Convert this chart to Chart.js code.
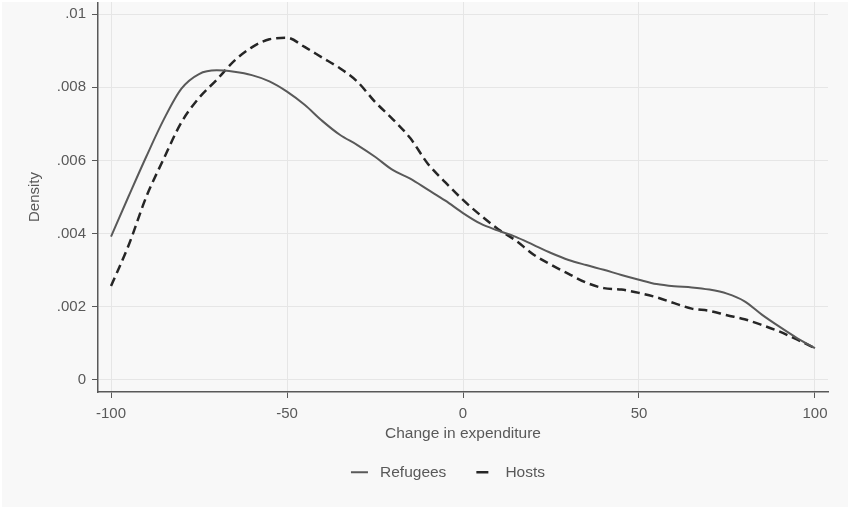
<!DOCTYPE html>
<html lang="en">
<head>
    <meta charset="UTF-8">
    <title>Change in expenditure density</title>
    <script src="https://cdn.jsdelivr.net/npm/chart.js"></script>
    <style>
        body { margin: 0; background: #fff; }
        #densityChart { position: absolute; left: 2px; top: 2px; background: #f8f8f8; }
    </style>
</head>
<body>
    <canvas id="densityChart" width="846" height="505"></canvas>

    <script>
        // Kernel density estimates, read every 5 points of change
        const changeValues = [-100, -95, -90, -85, -80, -75, -70, -65, -60, -55, -50, -45, -40, -35, -30, -25, -20, -15, -10, -5,
            0, 5, 10, 15, 20, 25, 30, 35, 40, 45, 50, 55, 60, 65, 70, 75, 80, 85, 90, 95, 100];
        const refugees = [.00392, .00502, .00610, .00712, .00796, .00836, .00846, .00842, .00833, .00816, .00788, .00752, .00708, .00670,
            .00642, .00610, .00574, .00550, .00520, .00490, .00456, .00427, .00408, .00391, .00369, .00347, .00328, .00314, .00301,
            .00287, .00274, .00262, .00256, .00253, .00247, .00236, .00215, .00178, .00145, .00114, .00087];
        const hosts = [.00257, .00368, .00500, .00605, .00704, .00771, .00820, .00872, .00909, .00931, .00935, .00910, .00881, .00852,
            .00815, .00760, .00713, .00661, .00591, .00540, .00492, .00450, .00412, .00381, .00343, .00315, .00290, .00266, .00251,
            .00247, .00238, .00226, .00210, .00195, .00189, .00177, .00166, .00150, .00132, .00110, .00087];

        const xTicks = [-100, -50, 0, 50, 100];
        const yTicks = [0, .002, .004, .006, .008, .01];
        const yTickLabels = ['0', '.002', '.004', '.006', '.008', '.01'];

        const textColor = '#595959';
        const axisColor = '#595959';
        const gridColor = '#e6e6e6';

        Chart.defaults.font.family = '"Liberation Sans", Arial, sans-serif';
        Chart.defaults.font.size = 15;
        Chart.defaults.color = textColor;

        // move the legend to where Stata puts it
        const legendShift = {
            id: 'legendShift',
            afterLayout(chart) {
                const lg = chart.legend;
                const dx = 33, dy = -17;
                lg.left += dx; lg.right += dx;
                lg.top += dy; lg.bottom += dy;
            }
        };

        const ctx = document.getElementById('densityChart').getContext('2d');
        const densityChart = new Chart(ctx, {
            type: 'line',
            data: {
                datasets: [{
                    label: 'Refugees',
                    data: changeValues.map((x, i) => ({ x: x, y: refugees[i] })),
                    borderColor: '#595959',
                    borderWidth: 2,
                    pointRadius: 0,
                    cubicInterpolationMode: 'monotone',
                    fill: false
                }, {
                    label: 'Hosts',
                    data: changeValues.map((x, i) => ({ x: x, y: hosts[i] })),
                    borderColor: '#262626',
                    borderWidth: 2.5,
                    borderDash: [9, 5],
                    pointRadius: 0,
                    cubicInterpolationMode: 'monotone',
                    fill: false
                }]
            },
            options: {
                responsive: false,
                animation: false,
                layout: { padding: { top: 0, left: 0, right: 20, bottom: 0 } },
                plugins: {
                    tooltip: { enabled: false },
                    legend: {
                        position: 'bottom',
                        labels: {
                            usePointStyle: true,
                            pointStyle: 'line',
                            pointStyleWidth: 17,
                            padding: 30,
                            color: textColor,
                            font: { size: 15.5 },
                            generateLabels(chart) {
                                const items = Chart.defaults.plugins.legend.labels.generateLabels(chart);
                                items.forEach(it => {
                                    it.pointStyle = 'line';
                                    it.text = ' ' + it.text;
                                    if (it.datasetIndex === 1) it.lineDash = [12, 20];
                                });
                                return items;
                            }
                        }
                    }
                },
                scales: {
                    x: {
                        type: 'linear',
                        min: -103.7,
                        max: 103.7,
                        afterBuildTicks: s => { s.ticks = xTicks.map(v => ({ value: v })); },
                        afterFit: s => { s.height = 59.5; },
                        ticks: { padding: 7, color: textColor, font: { size: 15 } },
                        grid: { color: gridColor, tickColor: axisColor, tickLength: 6 },
                        border: { display: true, color: axisColor, width: 1.5 },
                        title: { display: true, text: 'Change in expenditure', color: textColor, font: { size: 15.5 }, padding: { top: 0, bottom: 8 } }
                    },
                    y: {
                        type: 'linear',
                        min: -0.000328,
                        max: 0.010328,
                        afterBuildTicks: s => { s.ticks = yTicks.map(v => ({ value: v })); },
                        afterFit: s => { s.width = 96; s.paddingTop = 0; s.paddingBottom = 0; },
                        ticks: {
                            padding: 6,
                            color: textColor,
                            font: { size: 15 },
                            callback: (v, i) => yTickLabels[i]
                        },
                        grid: { color: gridColor, tickColor: axisColor, tickLength: 6 },
                        border: { display: true, color: axisColor, width: 1.5 },
                        title: { display: true, text: 'Density', color: textColor, font: { size: 15 }, padding: { top: 24, bottom: 0 } }
                    }
                }
            },
            plugins: [legendShift]
        });
    </script>
</body>
</html>
